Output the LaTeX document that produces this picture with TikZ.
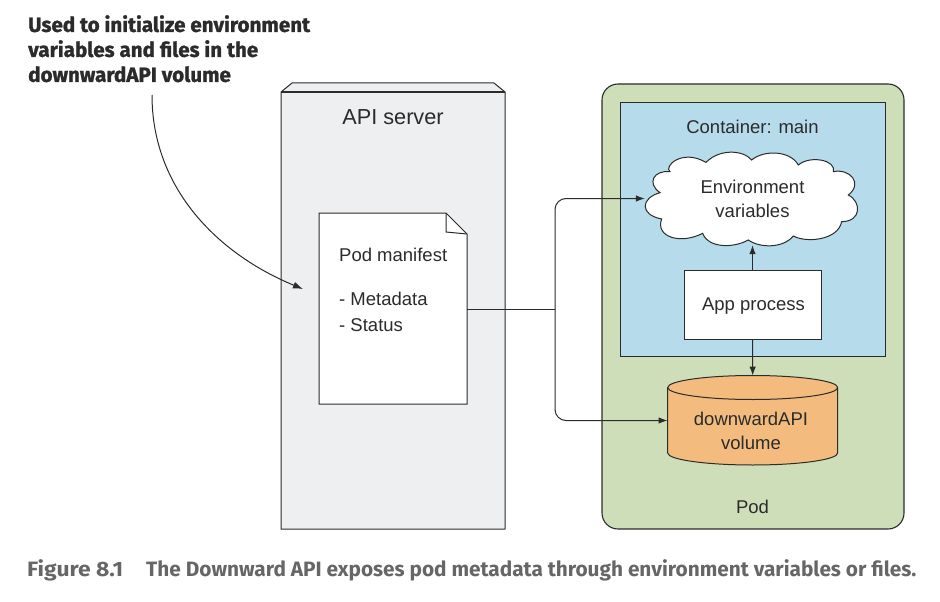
\documentclass[tikz,border=0pt]{standalone}
\usepackage{fontspec}
\setmainfont{Liberation Sans}
\newfontfamily\notefont{Fira Sans}[BoldFeatures={FakeBold=1.2}]
\newfontfamily\capfont{Fira Sans}
\newfontfamily\figfont{Fira Sans}[FakeStretch=1.1]
\usetikzlibrary{arrows.meta}
\definecolor{edge}{HTML}{2B2B2B}
\definecolor{apifill}{HTML}{EEEFF1}
\definecolor{podfill}{HTML}{CDDEB8}
\definecolor{contfill}{HTML}{B6DCEC}
\definecolor{volfill}{HTML}{F3BC7E}
\definecolor{capgray}{HTML}{666666}
\tikzset{
  x=1pt,y=-1pt,
  line/.style={draw=edge,line width=1pt},
  wire/.style={line,-{Latex[length=9pt,width=6.5pt]}},
  label/.style={font=\fontsize{18.5}{24}\selectfont,text=edge,align=center,inner sep=0pt},
  ghost/.style={inner sep=0pt,draw=none,fill=none,minimum width=#1},
  plainbox/.style={line,fill=white,inner sep=0pt}
}
\begin{document}
\begin{tikzpicture}
\useasboundingbox (0,0) rectangle (940,602);
% API server
\path[line,fill=apifill,line join=round] (281,92) -- (292,83) -- (494,83) -- (505,92) -- (505,529) -- (281,529) -- cycle;
\draw[line] (281,92) -- (505,92);
\node[label,font=\fontsize{21.7}{24}\selectfont] (api) at (393,117) {API server};
% Pod
\node[line,draw=edge,fill=podfill,rounded corners=16pt,minimum width=302pt,minimum height=445pt,inner sep=0pt,line width=1.1pt] (pod) at (753,306.5) {};
\node[line,fill=contfill,minimum width=264.5pt,minimum height=254pt,inner sep=0pt] (cont) at (752.75,229) {};
\node[label] (conttxt) at (752.5,127) {Container: main};
\node[label] (podtxt) at (752.5,507) {Pod};
% Document
\path[line,fill=white] (319,213) -- (446,213) -- (467,234) -- (467,404) -- (319,404) -- cycle;
\draw[line] (446,213) -- (446,232) -- (467,234);
\coordinate (docout) at (467,309);
\node[label,anchor=west] (doctitle) at (339,255) {Pod manifest};
\node[label,anchor=west] (docm) at (339,299) {- Metadata};
\node[label,anchor=west] (docs) at (339,325) {- Status};
% Cloud
\begin{scope}[shift={(620,150)},x=0.3333pt,y=-0.3333pt]
\path[line,fill=white,line width=1pt]
 (150,65) .. controls (130,50) and (185,-5) .. (258,37)
 .. controls (300,-5) and (370,0) .. (395,30)
 .. controls (430,0) and (510,0) .. (535,45)
 .. controls (570,15) and (650,30) .. (640,65)
 .. controls (690,55) and (730,100) .. (685,135)
 .. controls (725,155) and (725,215) .. (665,215)
 .. controls (655,270) and (560,280) .. (520,258)
 .. controls (490,295) and (420,295) .. (385,270)
 .. controls (340,295) and (265,295) .. (248,250)
 .. controls (180,285) and (105,260) .. (125,207)
 .. controls (60,195) and (60,145) .. (120,128)
 .. controls (80,100) and (100,60) .. (150,65) -- cycle;
\end{scope}
\node[label,ghost=215pt,minimum height=93pt] (cloud) at (752.5,198.5) {};
\node[label] (cloudtxt) at (752.5,198.5) {Environment\\variables};
% App
\node[plainbox,minimum width=137pt,minimum height=69pt] (app) at (752.5,304.5) {};
\node[label] (apptxt) at (753.5,306) {App process};
% Volume
\path[line,fill=volfill] (667.7,387.5) -- (667.7,453)
  .. controls (667.7,459.6) and (705.7,465) .. (752.7,465)
  .. controls (799.7,465) and (837.7,459.6) .. (837.7,453)
  -- (837.7,387.5)
  .. controls (837.7,380.9) and (799.7,375.5) .. (752.7,375.5)
  .. controls (705.7,375.5) and (667.7,380.9) .. (667.7,387.5) -- cycle;
\draw[line] (667.7,387.5) .. controls (667.7,394.1) and (705.7,399.5) .. (752.7,399.5)
  .. controls (799.7,399.5) and (837.7,394.1) .. (837.7,387.5);
\node[ghost=170pt,minimum height=89.5pt] (vol) at (752.7,420.5) {};
\node[label] (voltxt) at (751,431) {downwardAPI\\volume};
% Connectors
\coordinate (branch) at (555,309);
\draw[line] (docout) -- (branch);
\draw[wire,rounded corners=11pt] (branch) |- (cloud.west);
\draw[wire,rounded corners=11pt] (branch) |- (vol.west);
\draw[wire] (app.north) -- (cloud.south);
\draw[wire] (app.south) -- (vol.north);
% Note
\node[anchor=north west,inner sep=0pt,align=left,font=\notefont\bfseries\fontsize{20.6}{25}\selectfont,text=edge] (note) at (28,15) {Used to initialize environment\\variables and files in the\\downwardAPI volume};
\coordinate (notefoot) at (152,95);
\coordinate (notetip) at (303,289);
\draw[line,-{Latex[length=10pt,width=7pt]}] (notefoot) .. controls (152,190) and (220,255) .. (notetip);
% Caption
\node[anchor=west,inner sep=0pt,text=capgray,font=\figfont\bfseries\fontsize{20.8}{24}\selectfont] (figno) at (27,570) {Figure 8.1};
\node[anchor=west,inner sep=0pt,text=capgray,font=\capfont\bfseries\fontsize{20.8}{24}\selectfont] (cap) at (146,570) {The Downward API exposes pod metadata through environment variables or files.};
\end{tikzpicture}
\end{document}
